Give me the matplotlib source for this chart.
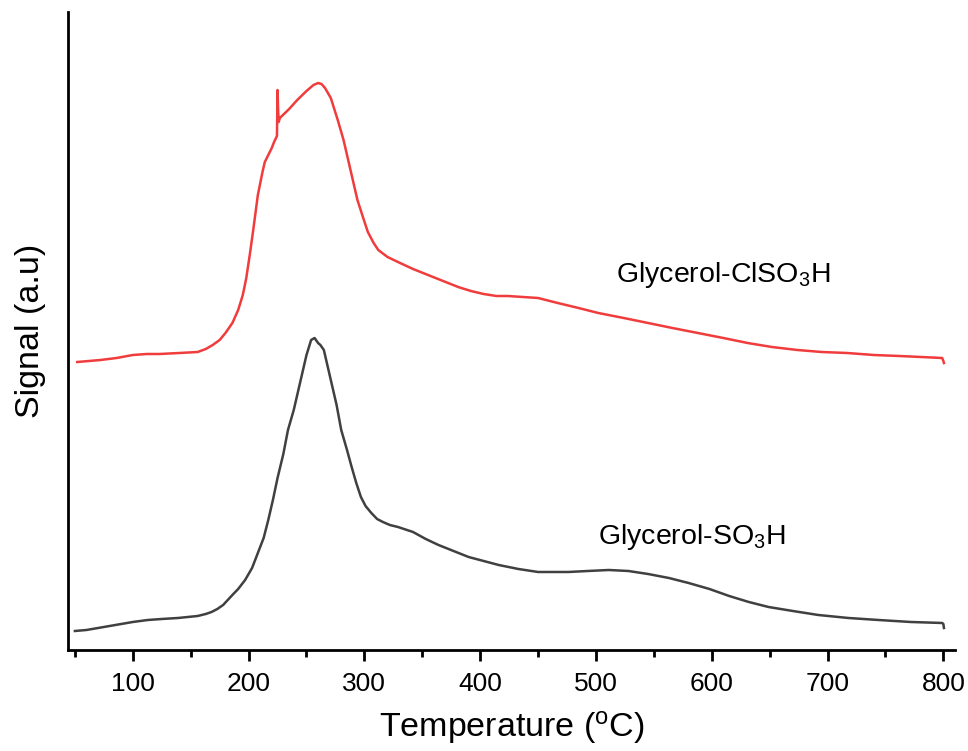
import numpy as np
import matplotlib
matplotlib.use("Agg")
import matplotlib.pyplot as plt
import matplotlib.ticker as ticker

plt.rcParams['font.family'] = ['Liberation Sans', 'DejaVu Sans']
plt.rcParams['mathtext.fontset'] = 'custom'
plt.rcParams['mathtext.rm'] = 'Liberation Sans'
plt.rcParams['mathtext.it'] = 'Liberation Sans:italic'

# Glycerol-ClSO3H (red), temperature in C and signal in a.u.
temp_cl = [52, 62, 72, 86, 100, 112, 123, 140, 156, 163, 169, 175, 180, 186,
           191, 195, 198, 201, 204, 208, 212, 214, 217, 220, 222, 224.5, 225,
           225.5, 226, 227, 235, 242, 250, 256, 260, 263, 266, 271, 277, 282,
           286, 290, 294, 299, 303, 308, 312, 320, 329, 342, 355, 368, 381, 392,
           403, 414, 424, 437, 450, 467, 485, 502, 524, 545, 566, 588, 610, 631,
           652, 674, 695, 717, 740, 762, 781, 799, 800, 800.5]
sig_cl = [288, 289, 290, 292, 295, 296, 296, 297, 298, 301, 305, 310, 317, 327,
          340, 355, 372, 395, 420, 455, 478, 488, 495, 502, 508, 514, 560,
          540, 528, 532, 541, 550, 559, 565, 567, 566, 562, 552, 530, 510,
          490, 470, 450, 432, 418, 407, 400, 393, 388, 381, 375, 369, 363, 359,
          356, 354, 354, 353, 352, 347, 342, 337, 332, 327, 322, 317, 312, 307,
          303, 300, 298, 297, 295, 294, 293, 292, 289, 287]

# Glycerol-SO3H (dark grey)
temp_s = [50, 60, 70, 85, 100, 113, 125, 139, 156, 163, 168, 173, 178, 182,
          186, 191, 197, 203, 208, 213, 217, 221, 225, 230, 234, 239, 243, 247,
          250, 254, 257, 260, 262, 265, 268, 271, 276, 280, 285, 289, 293, 297,
          301, 306, 311, 316, 322, 329, 342, 353, 364, 377, 390, 403, 416, 433,
          450, 476, 493, 511, 528, 545, 563, 580, 598, 615, 632, 649, 670, 692,
          718, 744, 772, 799, 800, 800.5]
sig_s = [19, 20, 22, 25, 28, 30, 31, 32, 34, 36, 38, 41, 45, 50,
         55, 61, 70, 82, 97, 112, 130, 150, 172, 196, 220, 240, 260, 280,
         295, 310, 312, 307, 305, 300, 285, 270, 245, 220, 200, 183, 167, 153,
         144, 137, 131, 128, 125, 123, 118, 111, 105, 99, 93, 89, 85, 81,
         78, 78, 79, 80, 79, 76, 72, 67, 61, 54, 48, 43, 39, 35,
         32, 30, 28, 27, 26, 22]

fig = plt.figure(figsize=(9.68, 7.51), dpi=100)
ax = fig.add_axes([0.0702, 0.1345, 0.9163, 0.8495])

ax.plot(temp_cl, sig_cl, color='#f03c3c', lw=1.8)
ax.plot(temp_s, sig_s, color='#404040', lw=1.8)

ax.text(517, 375, r'Glycerol-ClSO$_3$H', fontsize=20.5, va='center', ha='left')
ax.text(502, 113, r'Glycerol-SO$_3$H', fontsize=20.5, va='center', ha='left')

ax.set_xlim(44, 810)
ax.set_ylim(0, 638)
ax.set_yticks([])
for side in ['top', 'right']:
    ax.spines[side].set_visible(False)
for side in ['left', 'bottom']:
    ax.spines[side].set_linewidth(2)

ax.xaxis.set_major_locator(ticker.MultipleLocator(100))
ax.xaxis.set_minor_locator(ticker.MultipleLocator(50))
ax.tick_params(axis='x', which='major', direction='out', length=8, width=2,
               labelsize=19, pad=8)
ax.tick_params(axis='x', which='minor', direction='out', length=5, width=2)

ax.set_xlabel(r'Temperature ($^{\rm o}$C)', fontsize=24.5, labelpad=9)
ax.set_ylabel('Signal (a.u)', fontsize=24.5, labelpad=16)

fig.savefig('out.png', dpi=100)
